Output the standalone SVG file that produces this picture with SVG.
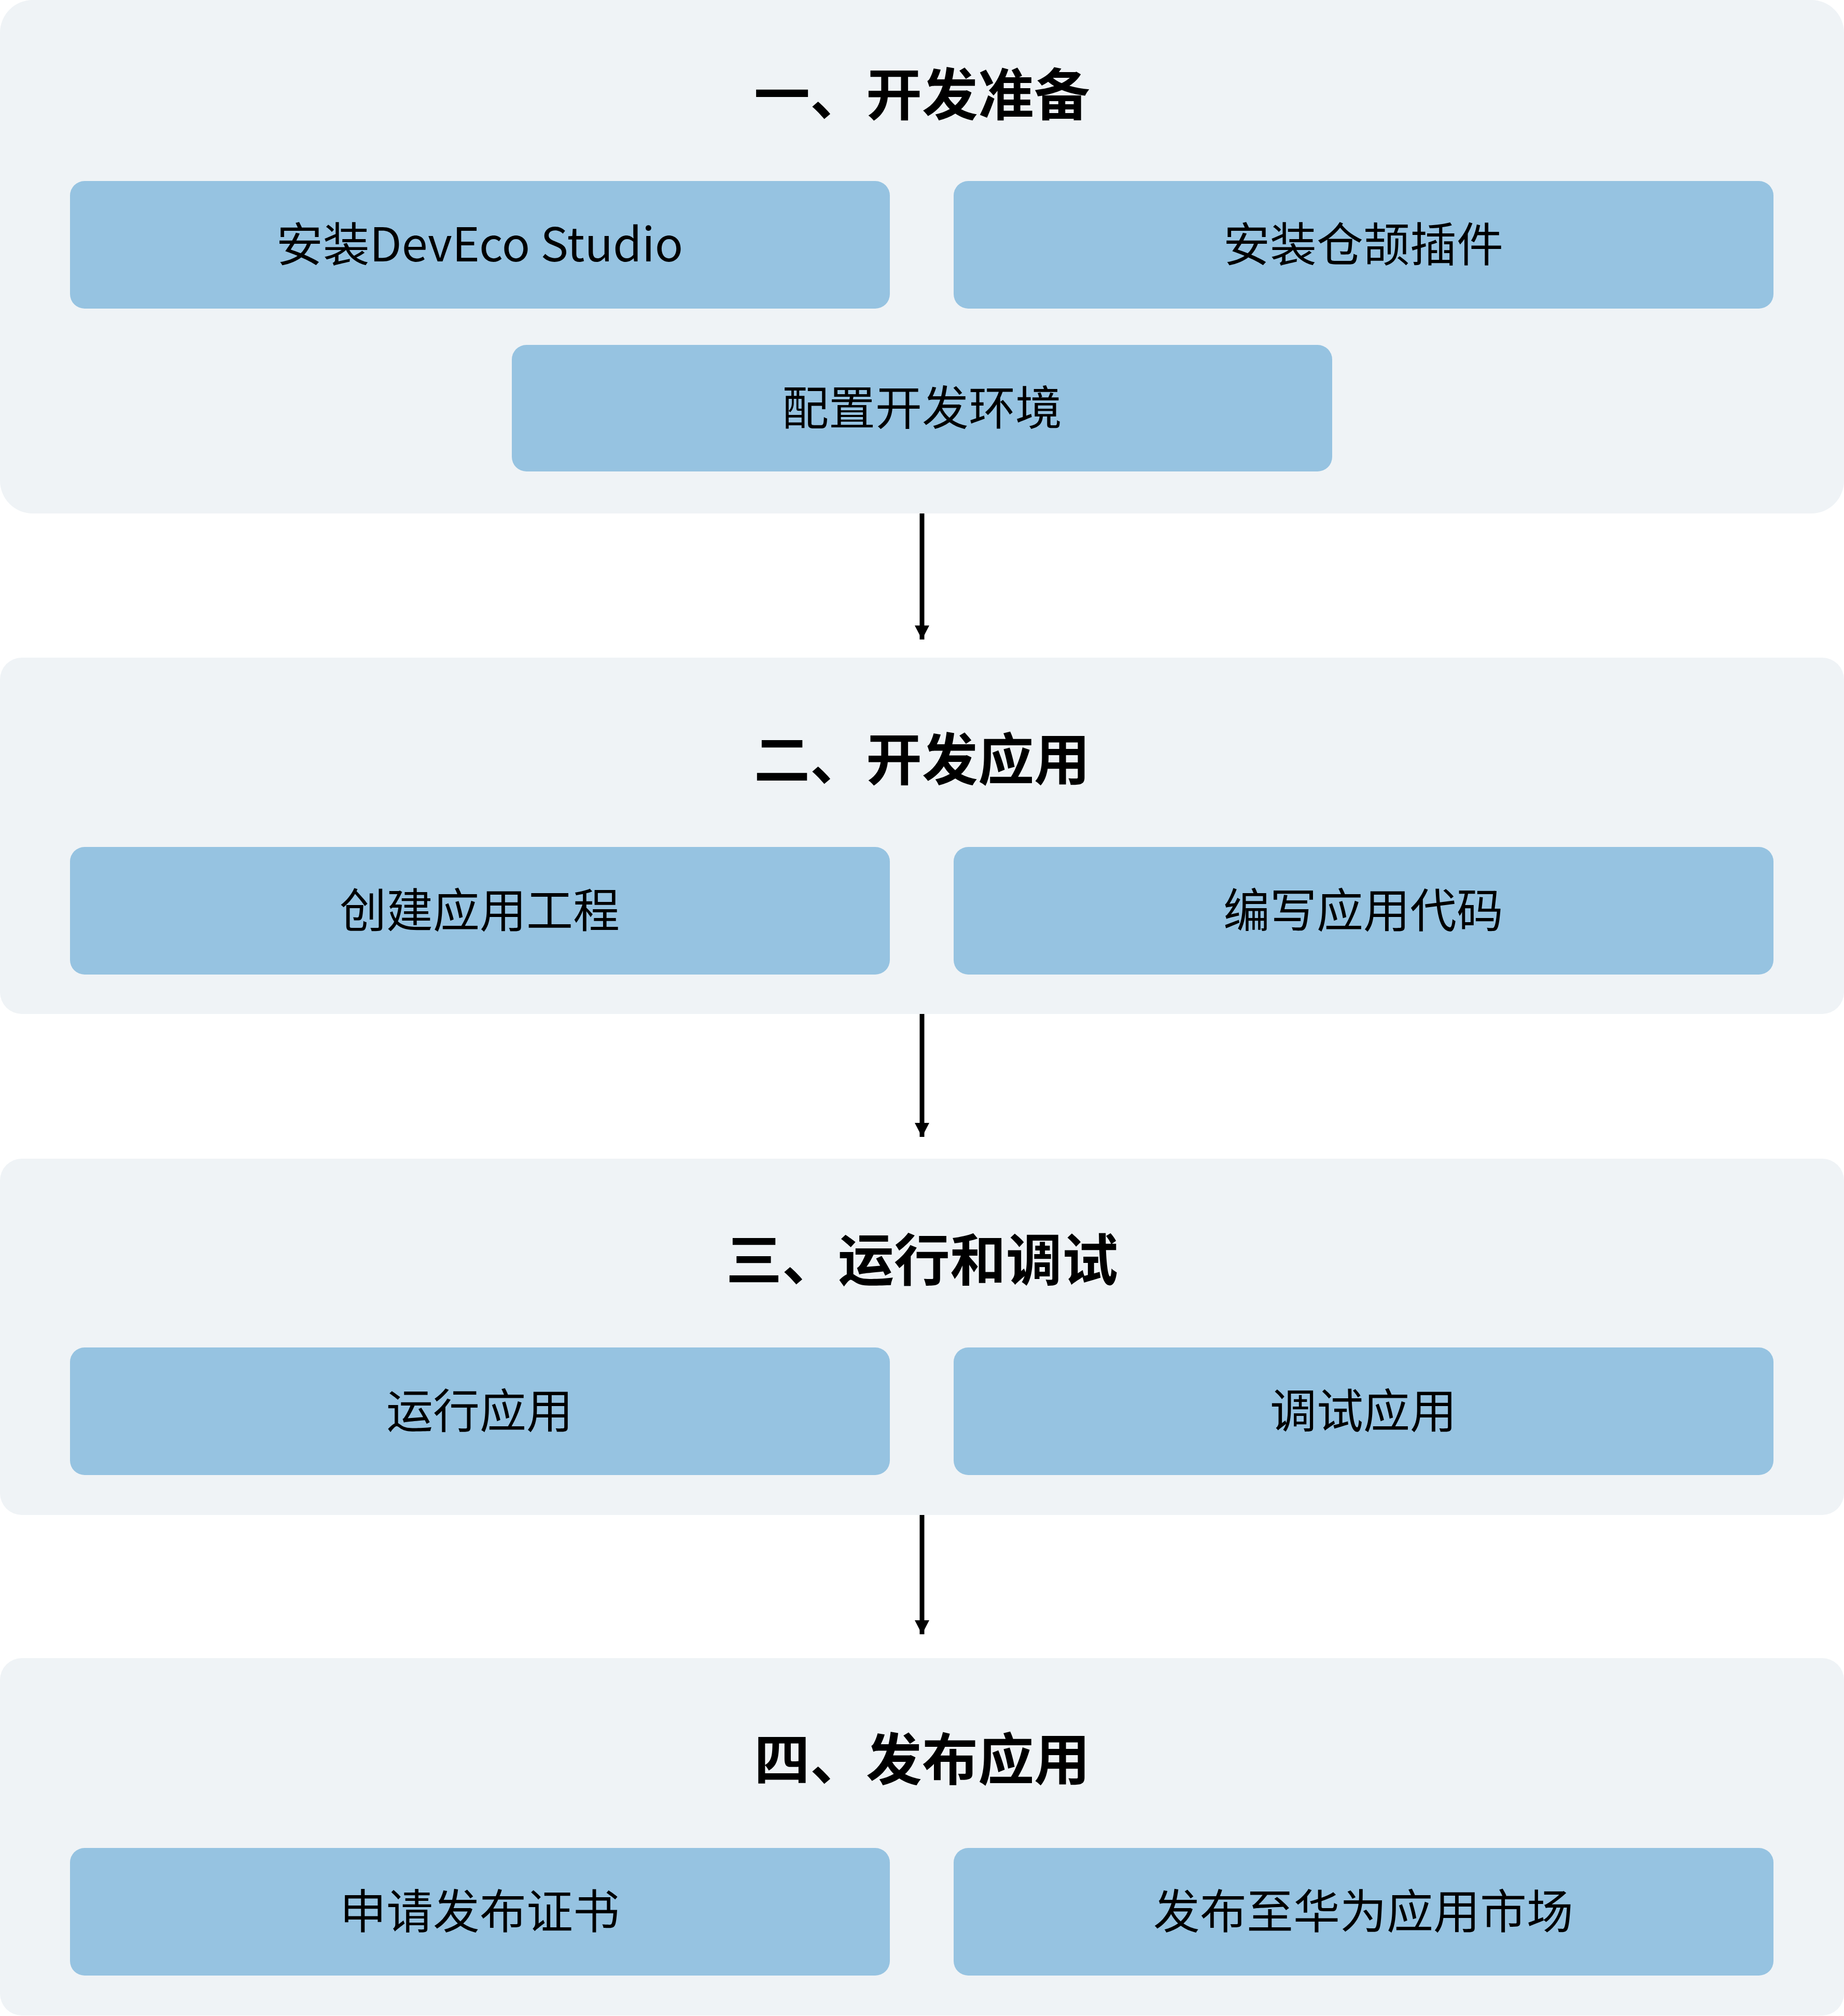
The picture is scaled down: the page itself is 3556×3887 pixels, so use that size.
<svg xmlns="http://www.w3.org/2000/svg" width="3556" height="3887" viewBox="0 0 3556 3887">
  <defs>
    <style>
      .panel { fill: #EFF3F6; }
      .node { fill: #96C3E1; }
      .title { font-family: "Noto Sans CJK SC", "Noto Sans", sans-serif; font-size: 108px; font-weight: 700; fill: #000; text-anchor: middle; dominant-baseline: central; }
      .label { font-family: "Noto Sans CJK SC", "Noto Sans", sans-serif; font-size: 90px; font-weight: 400; fill: #000; text-anchor: middle; dominant-baseline: central; }
      .conn { stroke: #000; stroke-width: 9; fill: none; }
    </style>
    <marker id="arrow" markerUnits="userSpaceOnUse" markerWidth="28" markerHeight="28" viewBox="0 0 28 28" refX="27" refY="14" orient="auto">
      <path d="M0,0 L27,14 L0,28 Z" fill="#000"/>
    </marker>
  </defs>

  <g id="panel1">
    <rect class="panel" x="0" y="0" width="3556" height="990" rx="63" ry="63"/>
    <text class="title" x="1778" y="175">一、开发准备</text>
  </g>
  <g id="node-install-deveco">
    <rect class="node" x="135" y="349" width="1581" height="246" rx="28" ry="28"/>
    <text class="label" x="925" y="465">安装DevEco Studio</text>
  </g>
  <g id="node-install-plugin">
    <rect class="node" x="1839" y="349" width="1581" height="246" rx="28" ry="28"/>
    <text class="label" x="2629" y="465">安装仓颉插件</text>
  </g>
  <g id="node-config-env">
    <rect class="node" x="987" y="665" width="1582" height="244" rx="28" ry="28"/>
    <text class="label" x="1778" y="780">配置开发环境</text>
  </g>

  <g id="panel2">
    <rect class="panel" x="0" y="1268" width="3556" height="687" rx="42" ry="42"/>
    <text class="title" x="1778" y="1457">二、开发应用</text>
  </g>
  <g id="node-create-project">
    <rect class="node" x="135" y="1633" width="1581" height="246" rx="28" ry="28"/>
    <text class="label" x="925" y="1749">创建应用工程</text>
  </g>
  <g id="node-write-code">
    <rect class="node" x="1839" y="1633" width="1581" height="246" rx="28" ry="28"/>
    <text class="label" x="2629" y="1749">编写应用代码</text>
  </g>

  <g id="panel3">
    <rect class="panel" x="0" y="2234" width="3556" height="687" rx="42" ry="42"/>
    <text class="title" x="1778" y="2422">三、运行和调试</text>
  </g>
  <g id="node-run-app">
    <rect class="node" x="135" y="2598" width="1581" height="246" rx="28" ry="28"/>
    <text class="label" x="925" y="2714">运行应用</text>
  </g>
  <g id="node-debug-app">
    <rect class="node" x="1839" y="2598" width="1581" height="246" rx="28" ry="28"/>
    <text class="label" x="2629" y="2714">调试应用</text>
  </g>

  <g id="panel4">
    <rect class="panel" x="0" y="3197" width="3556" height="689" rx="42" ry="42"/>
    <text class="title" x="1778" y="3385">四、发布应用</text>
  </g>
  <g id="node-apply-cert">
    <rect class="node" x="135" y="3563" width="1581" height="246" rx="28" ry="28"/>
    <text class="label" x="925" y="3679">申请发布证书</text>
  </g>
  <g id="node-publish">
    <rect class="node" x="1839" y="3563" width="1581" height="246" rx="28" ry="28"/>
    <text class="label" x="2629" y="3679">发布至华为应用市场</text>
  </g>

  <g id="connectors">
    <line class="conn" x1="1778" y1="990" x2="1778" y2="1233" marker-end="url(#arrow)"/>
    <line class="conn" x1="1778" y1="1955" x2="1778" y2="2192" marker-end="url(#arrow)"/>
    <line class="conn" x1="1778" y1="2921" x2="1778" y2="3151" marker-end="url(#arrow)"/>
  </g>
</svg>
